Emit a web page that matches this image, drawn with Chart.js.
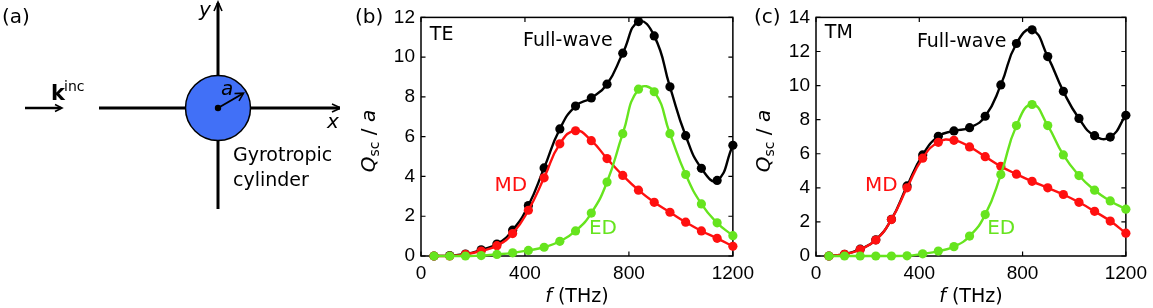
<!DOCTYPE html>
<html>
<head>
<meta charset="utf-8">
<script src="https://cdn.jsdelivr.net/npm/chart.js@4.4.0/dist/chart.umd.min.js"></script>
<style>
html,body{margin:0;padding:0;background:#fff;width:1153px;height:308px;overflow:hidden;}
.p{position:absolute;top:0;height:308px;}
#pa{left:0;width:340px;}
#pb{left:340px;width:420px;}
#pc{left:740px;width:413px;}
</style>
</head>
<body>
<div class="p" id="pa"><canvas id="ca"></canvas></div>
<div class="p" id="pb"><canvas id="cb"></canvas></div>
<div class="p" id="pc"><canvas id="cc"></canvas></div>
<script>
// ---------- data ----------
const freqTHz = [50, 110.5, 171.1, 231.6, 292.1, 352.6, 413.2, 473.7, 534.2, 594.7,
                 655.3, 715.8, 776.3, 836.8, 897.4, 957.9, 1018.4, 1078.9, 1139.5, 1200];
const teFullWave = [0, 0.02, 0.1, 0.31, 0.6, 1.3, 2.54, 4.43, 6.39, 7.54,
                    7.95, 8.64, 10.2, 11.79, 11.07, 8.51, 6.05, 4.41, 3.8, 5.57];
const teMD = [0, 0, 0.08, 0.25, 0.52, 1.13, 2.3, 3.93, 5.64, 6.3,
              5.8, 4.9, 4.05, 3.31, 2.7, 2.2, 1.7, 1.26, 0.89, 0.49];
const teED = [0, 0, 0, 0.02, 0.08, 0.16, 0.28, 0.44, 0.74, 1.26,
              2.16, 3.72, 6.15, 8.39, 8.26, 6.15, 4.1, 2.62, 1.67, 1.02];
const tmFullWave = [0, 0.1, 0.4, 0.95, 2.15, 4.11, 5.93, 7.02, 7.34, 7.53,
                    8.2, 10.04, 12.47, 13.27, 11.7, 9.66, 8.07, 7.06, 6.98, 8.26];
const tmMD = [0, 0.1, 0.38, 0.94, 2.14, 4.0, 5.74, 6.67, 6.79, 6.4,
              5.83, 5.26, 4.8, 4.38, 4.0, 3.61, 3.15, 2.62, 2.05, 1.34];
const tmED = [0, 0, 0, 0, 0, 0.01, 0.13, 0.29, 0.55, 1.17,
              2.43, 4.78, 7.65, 8.89, 7.65, 5.93, 4.72, 3.86, 3.23, 2.75];
const xTicks = [0, 400, 800, 1200];
const teYTicks = [0, 2, 4, 6, 8, 10, 12];
const tmYTicks = [0, 2, 4, 6, 8, 10, 12, 14];

// ---------- schematic geometry (panel a, in canvas px units) ----------
const axisXLine = [{x: 99, y: 108}, {x: 340, y: 108}];
const axisXHead = [{x: 332, y: 104}, {x: 341, y: 108}, {x: 332, y: 112}];
const axisYLine = [{x: 218, y: 209}, {x: 218, y: 3}];
const axisYHead = [{x: 214, y: 11}, {x: 218, y: 2}, {x: 222, y: 11}];
const kLine = [{x: 25, y: 108}, {x: 61, y: 108}];
const kHead = [{x: 55, y: 104.5}, {x: 62, y: 108}, {x: 55, y: 111.5}];
const cylinderCenter = [{x: 218, y: 108}];
const radiusLine = [{x: 218, y: 108}, {x: 243, y: 93.5}];
const radiusHead = [{x: 234.5, y: 93.5}, {x: 243.5, y: 93.2}, {x: 239, y: 100.8}];

const RED = '#ff1010';
const GREEN = '#66e41e';
const BLUE = '#4170f7';
const TXT = '"DejaVu Sans", sans-serif';
Chart.defaults.font.family = '"Liberation Sans", Arial, sans-serif';
Chart.defaults.color = '#000';

function pts(vals) { return vals.map((v, i) => ({x: freqTHz[i], y: v})); }

function curve(label, vals, color, order) {
  return {
    label, data: pts(vals), borderColor: color, backgroundColor: color,
    pointBackgroundColor: color, borderWidth: 2.4, pointRadius: 4.6,
    pointBorderWidth: 0, tension: 0.5, clip: false, order
  };
}

function panelPlugin(cfg) {
  return {
    id: 'panel_' + cfg.letter,
    beforeDatasetsDraw(chart) {
      const {ctx, chartArea: a, scales: {x, y}} = chart;
      ctx.save();
      ctx.strokeStyle = '#000';
      ctx.lineWidth = 1.5;
      ctx.strokeRect(a.left, a.top, a.right - a.left, a.bottom - a.top);
      ctx.lineWidth = 1.2;
      ctx.beginPath();
      x.ticks.forEach(t => {
        const px = x.getPixelForValue(t.value);
        ctx.moveTo(px, a.bottom); ctx.lineTo(px, a.bottom - 4.5);
        ctx.moveTo(px, a.top); ctx.lineTo(px, a.top + 4.5);
      });
      y.ticks.forEach(t => {
        const py = y.getPixelForValue(t.value);
        ctx.moveTo(a.left, py); ctx.lineTo(a.left + 4.5, py);
        ctx.moveTo(a.right, py); ctx.lineTo(a.right - 4.5, py);
      });
      ctx.stroke();
      ctx.restore();
    },
    afterDatasetsDraw(chart) {
      const {ctx, scales: {x, y}} = chart;
      ctx.save();
      ctx.textBaseline = 'middle';
      cfg.notes.forEach(n => {
        ctx.font = n.size + 'px ' + TXT;
        ctx.fillStyle = n.color;
        ctx.textAlign = n.align;
        ctx.fillText(n.text, x.getPixelForValue(n.x), y.getPixelForValue(n.y));
      });
      ctx.restore();
    },
    afterDraw(chart) {
      const {ctx, chartArea: a} = chart;
      ctx.save();
      ctx.fillStyle = '#000';
      ctx.textBaseline = 'alphabetic';
      // panel letter
      ctx.font = '20px ' + TXT;
      ctx.textAlign = 'left';
      ctx.fillText('(' + cfg.letter + ')', cfg.letterX, 22.5);
      // x title: f (THz)
      const xp = [{t: 'f', f: 'italic 19px ' + TXT}, {t: ' (THz)', f: '19px ' + TXT}];
      let tw = 0;
      xp.forEach(p => { ctx.font = p.f; p.w = ctx.measureText(p.t).width; tw += p.w; });
      let cx = (a.left + a.right) / 2 - tw / 2;
      xp.forEach(p => { ctx.font = p.f; ctx.fillText(p.t, cx, 302); cx += p.w; });
      // y title: Q_sc / a
      const yp = [
        {t: 'Q', f: 'italic 20px ' + TXT, dy: 0},
        {t: 'sc', f: '14px ' + TXT, dy: 4},
        {t: ' / ', f: '20px ' + TXT, dy: 0},
        {t: 'a', f: 'italic 20px ' + TXT, dy: 0}
      ];
      tw = 0;
      yp.forEach(p => { ctx.font = p.f; p.w = ctx.measureText(p.t).width; tw += p.w; });
      ctx.translate(cfg.yTitleX, 141);
      ctx.rotate(-Math.PI / 2);
      let lx = -tw / 2;
      yp.forEach(p => { ctx.font = p.f; ctx.fillText(p.t, lx, p.dy); lx += p.w; });
      ctx.restore();
    }
  };
}

function buildPanel(id, cfg) {
  return new Chart(document.getElementById(id), {
    type: 'line',
    data: {datasets: [
      curve('Full-wave', cfg.fw, '#000', 3),
      curve('MD', cfg.md, RED, 2),
      curve('ED', cfg.ed, GREEN, 1)
    ]},
    options: {
      responsive: true, maintainAspectRatio: false, animation: false,
      layout: {autoPadding: false, padding: {left: cfg.padL, top: cfg.padT, right: cfg.padR, bottom: 0}},
      plugins: {legend: {display: false}, tooltip: {enabled: false}},
      scales: {
        x: {
          type: 'linear', min: 0, max: 1200,
          afterBuildTicks: s => { s.ticks = xTicks.map(v => ({value: v})); },
          afterFit: s => { s.height = 52; },
          grid: {display: false, drawTicks: false}, border: {display: false},
          ticks: {font: {size: 19}, color: '#000', padding: 6, maxRotation: 0,
                  callback: v => String(v)}
        },
        y: {
          type: 'linear', min: 0, max: cfg.yMax,
          afterBuildTicks: s => { s.ticks = cfg.yTicks.map(v => ({value: v})); },
          afterFit: s => { s.width = 50; },
          grid: {display: false, drawTicks: false}, border: {display: false},
          ticks: {font: {size: 19}, color: '#000', padding: 6, callback: v => String(v)}
        }
      }
    },
    plugins: [panelPlugin(cfg)]
  });
}

buildPanel('cb', {
  letter: 'b', letterX: 15, yTitleX: 35,
  fw: teFullWave, md: teMD, ed: teED, yMax: 12, yTicks: teYTicks,
  padL: 31, padT: 12.5, padR: 27,
  notes: [
    {text: 'TE', x: 34, y: 11.1, color: '#000', size: 19, align: 'left'},
    {text: 'Full-wave', x: 565, y: 10.8, color: '#000', size: 19, align: 'center'},
    {text: 'MD', x: 346, y: 3.55, color: RED, size: 20, align: 'center'},
    {text: 'ED', x: 700, y: 1.37, color: GREEN, size: 20, align: 'center'}
  ]
});

buildPanel('cc', {
  letter: 'c', letterX: 14, yTitleX: 30,
  fw: tmFullWave, md: tmMD, ed: tmED, yMax: 14, yTicks: tmYTicks,
  padL: 26, padT: 12, padR: 24,
  notes: [
    {text: 'TM', x: 34, y: 13.1, color: '#000', size: 19, align: 'left'},
    {text: 'Full-wave', x: 564, y: 12.57, color: '#000', size: 19, align: 'center'},
    {text: 'MD', x: 253, y: 4.12, color: RED, size: 20, align: 'center'},
    {text: 'ED', x: 717, y: 1.59, color: GREEN, size: 20, align: 'center'}
  ]
});

// ---------- panel (a): schematic ----------
function seg(data, w, order) {
  return {data, showLine: true, borderColor: '#000', borderWidth: w, pointRadius: 0,
          tension: 0, clip: false, borderCapStyle: 'butt', borderJoinStyle: 'miter', order};
}
const schematicText = {
  id: 'schematicText',
  afterDraw(chart) {
    const {ctx, scales: {x, y}} = chart;
    const put = (t, f, px, py) => { ctx.font = f; ctx.fillText(t, x.getPixelForValue(px), y.getPixelForValue(py)); };
    ctx.save();
    ctx.fillStyle = '#000';
    ctx.textAlign = 'left';
    ctx.textBaseline = 'alphabetic';
    put('(a)', '20px ' + TXT, 2, 22.5);
    put('k', 'bold 21px ' + TXT, 51, 100);
    put('inc', '14px ' + TXT, 64, 91);
    put('y', 'italic 20px ' + TXT, 199, 16);
    put('x', 'italic 20px ' + TXT, 327, 128);
    put('a', 'italic 20px ' + TXT, 221, 95);
    put('Gyrotropic', '19px ' + TXT, 233, 161);
    put('cylinder', '19px ' + TXT, 233, 186);
    ctx.restore();
  }
};
new Chart(document.getElementById('ca'), {
  type: 'scatter',
  data: {datasets: [
    seg(axisXLine, 3, 10), seg(axisYLine, 3, 10),
    seg(axisXHead, 1.6, 10), seg(axisYHead, 1.6, 10),
    seg(kLine, 2.5, 10), seg(kHead, 1.6, 10),
    {data: cylinderCenter, showLine: false, pointRadius: 32.5, pointBackgroundColor: BLUE,
     pointBorderColor: '#000', pointBorderWidth: 1.5, clip: false, order: 5},
    seg(radiusLine, 2, 2), seg(radiusHead, 1.6, 2),
    {data: cylinderCenter, showLine: false, pointRadius: 3.2, pointBackgroundColor: '#000',
     pointBorderWidth: 0, clip: false, order: 1}
  ]},
  options: {
    responsive: true, maintainAspectRatio: false, animation: false,
    layout: {autoPadding: false, padding: 0},
    plugins: {legend: {display: false}, tooltip: {enabled: false}},
    scales: {
      x: {type: 'linear', display: false, min: 0, max: 340},
      y: {type: 'linear', display: false, min: 0, max: 308, reverse: true}
    }
  },
  plugins: [schematicText]
});
</script>
</body>
</html>
